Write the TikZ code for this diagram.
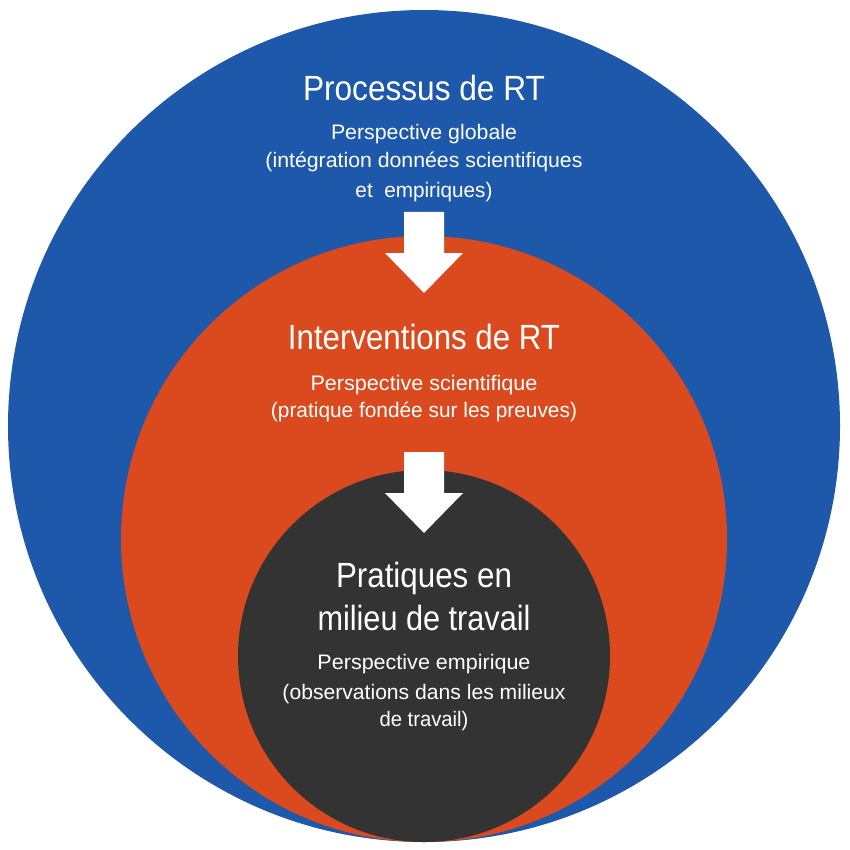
\documentclass[tikz,border=0pt]{standalone}
\usepackage{fontspec}
\setmainfont{Liberation Sans}
\usepackage{graphicx}
\definecolor{rtblue}{RGB}{29,88,170}
\definecolor{rtorange}{RGB}{218,74,30}
\definecolor{rtdark}{RGB}{51,51,51}
\newcommand{\fitw}[2]{\resizebox{#1pt}{\height}{#2}}
\begin{document}
\begin{tikzpicture}[x=1pt,y=-1pt,
  disc/.style={circle, inner sep=0pt, draw=none},
  ttl/.style={text=white, anchor=base, inner sep=0pt, font=\fontsize{35}{40}\selectfont},
  sub/.style={text=white, anchor=base, inner sep=0pt, font=\fontsize{21}{25}\selectfont},
  downarrow/.pic={\fill[white] (-20,0) -- (20,0) -- (20,41) -- (39,41) -- (0,81) -- (-39,41) -- (-20,41) -- cycle;}]
\useasboundingbox (0,0) rectangle (849,850);
% circles
\node[disc, fill=rtblue, minimum size=832pt] (blue) at (424,426) {};
\node[disc, fill=rtorange, minimum size=606pt] (orange) at (424,539) {};
\node[disc, fill=rtdark, minimum size=372pt] (dark) at (424,656) {};
% arrows
\pic (arrA) at (424,212) {downarrow};
\pic (arrB) at (424,452) {downarrow};
% blue texts
\node[ttl] (t1) at (424,101) {\fitw{242}{Processus de RT}};
\node[sub] (s1a) at (424,140) {\fitw{186}{Perspective globale}};
\node[sub] (s1b) at (424,168) {\fitw{317}{(intégration données scientifiques}};
\node[sub] (s1c) at (424,197) {\fitw{137}{et\ \ empiriques)}};
% orange texts
\node[ttl] (t2) at (424,349) {\fitw{272}{Interventions de RT}};
\node[sub] (s2a) at (424,390) {\fitw{227}{Perspective scientifique}};
\node[sub] (s2b) at (424,417) {\fitw{306}{(pratique fondée sur les preuves)}};
% dark texts
\node[ttl] (t3a) at (424,587) {\fitw{176}{Pratiques en}};
\node[ttl] (t3b) at (424,630) {\fitw{213}{milieu de travail}};
\node[sub] (s3a) at (424,669) {\fitw{213}{Perspective empirique}};
\node[sub] (s3b) at (424,699) {\fitw{283}{(observations dans les milieux}};
\node[sub] (s3c) at (424,726) {\fitw{89}{de travail)}};
\end{tikzpicture}
\end{document}
